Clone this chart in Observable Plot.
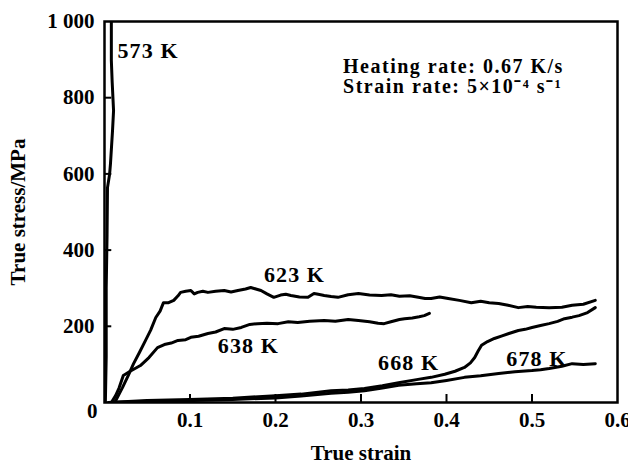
<!DOCTYPE html>
<html><head><meta charset="utf-8">
<script src="https://cdn.jsdelivr.net/npm/d3@7"></script>
<script src="https://cdn.jsdelivr.net/npm/@observablehq/plot@0.6"></script>
<style>body{margin:0;background:#fff}</style>
</head><body><div id="chart"></div>
<script>
// Temperatures (series names)
const temps = ["573 K", "623 K", "638 K", "668 K", "678 K"];

// [true strain, true stress (MPa)]
const curve573 = [[0.001,0],[0.002,120],[0.002,300],[0.003,440],[0.0035,564],[0.006,600],[0.007,627],[0.0094,714],[0.0106,766],[0.009,840],[0.008,898],[0.008,1000]];
const curve623 = [[0.012,0],[0.021,39],[0.028,72],[0.034,102],[0.041,132],[0.048,163],[0.054,190],[0.060,223],[0.065,240],[0.069,262],[0.075,262],[0.081,268],[0.086,280],[0.089,289],[0.095,292],[0.101,294],[0.105,285],[0.109,289],[0.115,292],[0.121,289],[0.130,292],[0.140,294],[0.148,290],[0.156,294],[0.165,298],[0.171,302],[0.177,298],[0.183,294],[0.190,285],[0.198,276],[0.206,282],[0.212,284],[0.218,281],[0.228,277],[0.238,276],[0.245,286],[0.250,284],[0.257,281],[0.265,278],[0.273,276],[0.285,283],[0.297,286],[0.310,282],[0.324,281],[0.335,283],[0.345,279],[0.357,280],[0.367,276],[0.375,273],[0.382,273],[0.392,277],[0.402,273],[0.415,268],[0.429,262],[0.440,266],[0.450,262],[0.461,260],[0.472,255],[0.484,249],[0.495,252],[0.505,250],[0.520,249],[0.535,250],[0.547,255],[0.560,258],[0.574,268]];
const curve638 = [[0.008,0],[0.013,18],[0.017,38],[0.022,71],[0.030,82],[0.042,97],[0.052,118],[0.062,144],[0.070,152],[0.078,156],[0.086,163],[0.095,165],[0.101,171],[0.110,174],[0.121,181],[0.130,185],[0.140,194],[0.150,192],[0.160,197],[0.170,205],[0.179,207],[0.190,208],[0.203,207],[0.215,212],[0.226,210],[0.240,213],[0.257,215],[0.270,213],[0.285,218],[0.297,215],[0.310,212],[0.320,208],[0.327,207],[0.335,212],[0.345,218],[0.351,220],[0.360,222],[0.368,225],[0.374,228],[0.380,234]];
const curve668 = [[0.005,0],[0.05,5],[0.1,8],[0.15,11],[0.2,18],[0.23,22],[0.265,31],[0.285,33],[0.304,37],[0.325,44],[0.344,52],[0.365,60],[0.382,66],[0.398,74],[0.410,82],[0.421,92],[0.428,104],[0.433,118],[0.437,135],[0.441,150],[0.448,160],[0.456,168],[0.465,175],[0.473,181],[0.484,189],[0.492,192],[0.500,197],[0.510,202],[0.520,207],[0.530,213],[0.538,220],[0.547,224],[0.555,228],[0.565,236],[0.574,249]];
const curve678 = [[0.005,0],[0.05,3],[0.1,5],[0.15,8],[0.2,12],[0.23,17],[0.265,24],[0.285,27],[0.304,31],[0.325,38],[0.344,45],[0.365,49],[0.382,52],[0.400,58],[0.421,66],[0.440,70],[0.461,76],[0.480,81],[0.500,84],[0.510,86],[0.520,89],[0.535,95],[0.547,102],[0.560,100],[0.574,102]];

// Curve label anchors (strain, stress)
const labelStrain = [0.0152, 0.1865, 0.1325, 0.320, 0.470];
const labelStress = [903, 315, 129, 84, 97];

// Ticks
const xTicks = [0.1, 0.2, 0.3, 0.4, 0.5, 0.6];
const yTicks = [200, 400, 600, 800, 1000];
const yTickText = ["200", "400", "600", "800", "1 000"];
const tickLenX = 0.0085; // inward y-tick length in strain units
const tickLenY = 21;     // inward x-tick length in stress units

const noteLines = ["Heating rate: 0.67 K/s", "Strain rate: 5\u00D710\u207B\u2074 s\u207B\u00B9"];
const noteStress = [866, 812];

const curves = [curve573, curve623, curve638, curve668, curve678];
const rows = [];
curves.forEach((c, i) => c.forEach(([x, y]) => rows.push({temp: temps[i], strain: x, stress: y})));
const labels = temps.map((t, i) => ({text: t, strain: labelStrain[i], stress: labelStress[i]}));
const notes = noteLines.map((t, i) => ({text: t, stress: noteStress[i]}));

const font = "'Liberation Serif', 'Times New Roman', serif";
const chart = Plot.plot({
  width: 628, height: 466,
  marginLeft: 104, marginRight: 11, marginTop: 21, marginBottom: 64,
  style: {fontFamily: font, fontSize: "21px", fontWeight: "bold", background: "#fff", color: "#000"},
  x: {domain: [0, 0.6]},
  y: {domain: [0, 1000]},
  marks: [
    Plot.line(rows, {x: "strain", y: "stress", z: "temp", stroke: "#000", strokeWidth: 3, clip: true}),
    Plot.frame({stroke: "#000", strokeWidth: 2.5}),
    // inward tick marks
    Plot.ruleY(yTicks.slice(0, -1), {y: d => d, x1: 0, x2: tickLenX, stroke: "#000", strokeWidth: 2}),
    Plot.ruleX(xTicks.slice(0, -1), {x: d => d, y1: 0, y2: tickLenY, stroke: "#000", strokeWidth: 2}),
    Plot.axisX({ticks: xTicks, tickSize: 0, tickPadding: 10, tickFormat: d => String(d), fontSize: 21,
      label: "True strain", labelAnchor: "center", labelArrow: "none", labelOffset: 57}),
    Plot.axisY({ticks: yTicks, tickSize: 0, tickPadding: 10, tickFormat: d => yTickText[yTicks.indexOf(d)], fontSize: 21,
      label: "True stress/MPa", labelAnchor: "center", labelArrow: "none", labelOffset: 94}),
    Plot.text([0], {x: 0, y: 0, text: () => "0", textAnchor: "end", dx: -7, dy: 9, fontSize: 21}),
    Plot.text(labels, {x: "strain", y: "stress", text: "text", textAnchor: "start", lineAnchor: "bottom", fontSize: 22, className: "curvelab"}),
    Plot.text(notes, {x: 0.279, y: "stress", text: "text", textAnchor: "start", lineAnchor: "bottom", fontSize: 20, className: "notelab"})
  ]
});
chart.querySelectorAll(".curvelab text").forEach(t => t.setAttribute("letter-spacing", "1.1"));
chart.querySelectorAll(".notelab text").forEach(t => t.setAttribute("letter-spacing", "1.5"));
document.getElementById("chart").appendChild(chart);
</script>
</body></html>
